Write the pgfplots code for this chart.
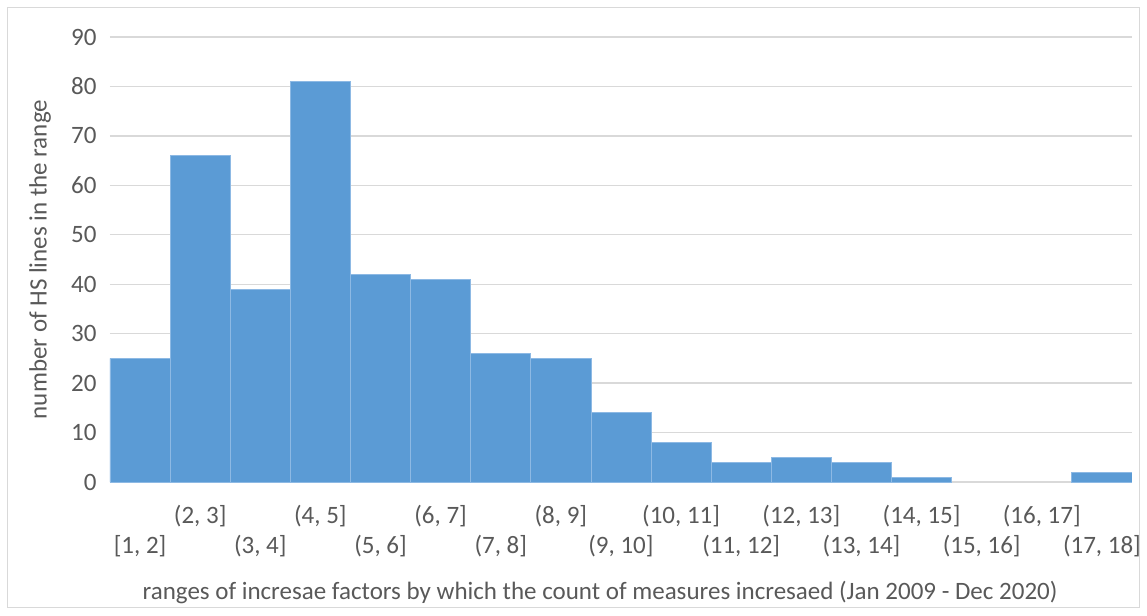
\documentclass[border=0pt]{standalone}
\usepackage{fontspec}
\setmainfont{Carlito}
\usepackage{pgfplots}
\pgfplotsset{compat=1.18}
\definecolor{barblue}{HTML}{5B9BD5}
\definecolor{baredge}{HTML}{8DB9E4}
\definecolor{gridgray}{HTML}{D9D9D9}
\definecolor{txtgray}{HTML}{595959}
\begin{document}
\begin{tikzpicture}
\useasboundingbox (-110pt,-133pt) rectangle (1037pt,482pt);
\draw[gridgray, line width=1pt] (-102pt,-125pt) rectangle (1029pt,474pt);
\begin{axis}[
  at={(0pt,0pt)}, anchor=south west,
  scale only axis, width=1022pt, height=445pt,
  xmin=0, xmax=17, ymin=0, ymax=90,
  axis x line*=bottom, axis y line*=left,
  axis line style={draw=none},
  ymajorgrids, grid style={gridgray, line width=1.3pt},
  ytick={0,10,...,90},
  major tick length=0pt,
  font=\fontsize{25}{28}\selectfont\color{txtgray},
  /pgf/number format/assume math mode=true,
  yticklabel style={anchor=east, xshift=-10pt},
  xtick={0.5,2.5,...,16.5},
  xticklabels={{[1, 2]},{(3, 4]},{(5, 6]},{(7, 8]},{(9, 10]},{(11, 12]},{(13, 14]},{(15, 16]},{(17, 18]}},
  xticklabel style={anchor=center, yshift=-64pt},
  extra x ticks={1.5,3.5,...,15.5},
  extra x tick labels={{(2, 3]},{(4, 5]},{(6, 7]},{(8, 9]},{(10, 11]},{(12, 13]},{(14, 15]},{(16, 17]}},
  extra x tick style={xticklabel style={yshift=30pt}, grid=none},
  xlabel={ranges of incresae factors by which the count of measures incresaed (Jan 2009 - Dec 2020)},
  xlabel style={at={(axis description cs:0.4795,0)}, anchor=center, yshift=-111pt},
  ylabel={number of HS lines in the range},
  ylabel style={at={(axis description cs:-0.0685,0.5)}, anchor=center},
]
% bins [1,2] ... (14,15]
\addplot[ybar interval, fill=barblue, draw=baredge, line width=0.8pt] coordinates {
 (0,25) (1,66) (2,39) (3,81) (4,42) (5,41) (6,26) (7,25) (8,14) (9,8)
 (10,4) (11,5) (12,4) (13,1) (14,1)
};
% bins (15,16] and (16,17] are 0; bin (17,18]
\addplot[ybar interval, fill=barblue, draw=baredge, line width=0.8pt] coordinates {
 (16,2) (17,2)
};
\end{axis}
\end{tikzpicture}
\end{document}
